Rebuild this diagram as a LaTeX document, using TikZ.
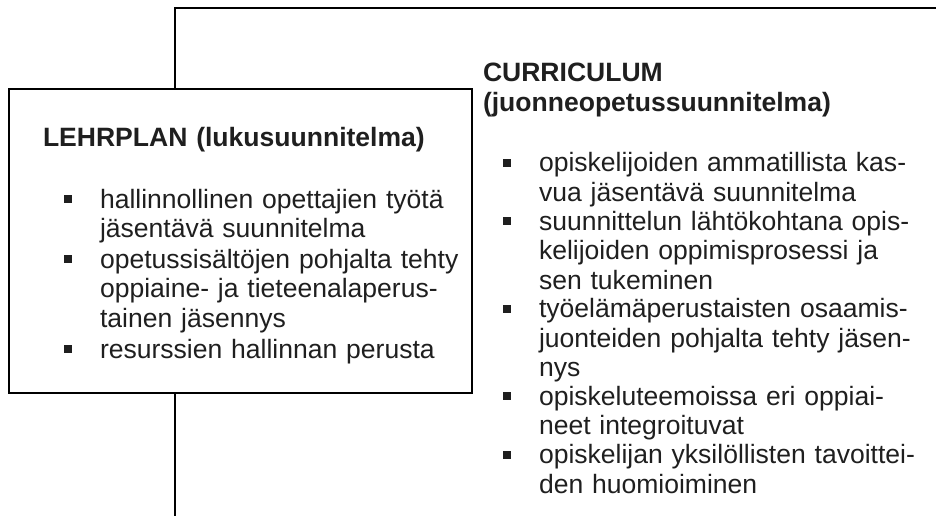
\documentclass[tikz,border=0pt]{standalone}
\usepackage{fontspec}
\setmainfont{Liberation Sans}
\begin{document}
\begin{tikzpicture}[x=0.75pt,y=-0.75pt,
  line/.style={draw=black, line width=1.3pt},
  txt/.style={anchor=base west, inner sep=0pt, outer sep=0pt, align=left, text width=#1,
    font=\fontsize{19.9pt}{22.1pt}\selectfont, text=black!88},
  head/.style={txt=#1, font=\fontsize{19.9pt}{22.1pt}\selectfont\bfseries},
  bul/.style={fill=black!88, minimum size=6pt, inner sep=0pt, outer sep=0pt, draw=none}]
\useasboundingbox (0,0) rectangle (936,516);
% large frame (left and top edges)
\coordinate (fb) at (175,516);
\coordinate (ftl) at (175,8);
\coordinate (ftr) at (936,8);
\draw[line] (fb) -- (ftl) -- (ftr);
% Lehrplan box
\node[line, fill=white, minimum width=463*0.75pt, minimum height=304*0.75pt, anchor=north west, inner sep=0pt] (box) at (8,88) {};
\node[head=360pt] (lh) at (43,146.7) {LEHRPLAN (lukusuunnitelma)};
\node[txt=300pt] (l1) at (100,208.3) {hallinnollinen opettajien työtä\\jäsentävä suunnitelma};
\node[txt=300pt] (l2) at (100,268.3) {opetussisältöjen pohjalta tehty\\oppiaine- ja tieteenalaperus-\\tainen jäsennys};
\node[txt=300pt] (l3) at (100,358.5) {resurssien hallinnan perusta};
\node[bul] (lb1) at ([shift={(-32.5,-9)}]l1.base west) {};
\node[bul] (lb2) at ([shift={(-32.5,-9)}]l2.base west) {};
\node[bul] (lb3) at ([shift={(-32.5,-9)}]l3.base west) {};
% Curriculum
\node[head=360pt] (rh) at (483,81.7) {CURRICULUM\\(juonneopetussuunnitelma)};
\node[txt=330pt] (r1) at (539,171.7) {opiskelijoiden ammatillista kas-\\vua jäsentävä suunnitelma};
\node[txt=330pt] (r2) at (539,230.1) {suunnittelun lähtökohtana opis-\\kelijoiden oppimisprosessi ja\\sen tukeminen};
\node[txt=330pt] (r3) at (539,317.7) {työelämäperustaisten osaamis-\\juonteiden pohjalta tehty jäsen-\\nys};
\node[txt=330pt] (r4) at (539,405.3) {opiskeluteemoissa eri oppiai-\\neet integroituvat};
\node[txt=330pt] (r5) at (539,463.7) {opiskelijan yksilöllisten tavoittei-\\den huomioiminen};
\node[bul] (rb1) at ([shift={(-32,-9)}]r1.base west) {};
\node[bul] (rb2) at ([shift={(-32,-9)}]r2.base west) {};
\node[bul] (rb3) at ([shift={(-32,-9)}]r3.base west) {};
\node[bul] (rb4) at ([shift={(-32,-9)}]r4.base west) {};
\node[bul] (rb5) at ([shift={(-32,-9)}]r5.base west) {};
\end{tikzpicture}
\end{document}
